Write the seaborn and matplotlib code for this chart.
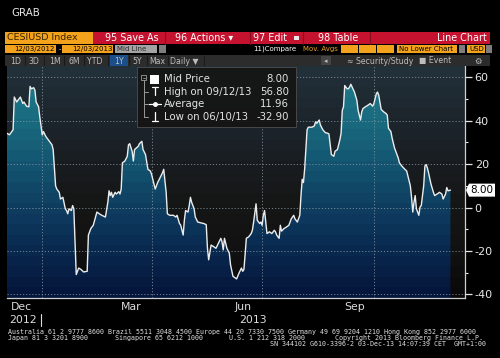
import numpy as np
import pandas as pd
import matplotlib
matplotlib.use("Agg")
import matplotlib.pyplot as plt
import matplotlib.dates as mdates
from matplotlib.colors import LinearSegmentedColormap
from matplotlib.patches import Rectangle, Polygon
from matplotlib.lines import Line2D
import seaborn as sns

# --- CESIUSD index ---
dates = [
    "2012-12-03", "2012-12-05", "2012-12-08", "2012-12-09", "2012-12-11", "2012-12-12", "2012-12-14",
    "2012-12-16", "2012-12-17", "2012-12-19", "2012-12-21", "2012-12-22", "2012-12-23", "2012-12-25",
    "2012-12-26", "2012-12-27", "2012-12-29", "2012-12-30", "2013-01-01", "2013-01-02", "2013-01-04",
    "2013-01-06", "2013-01-09", "2013-01-10", "2013-01-12", "2013-01-13", "2013-01-15", "2013-01-16",
    "2013-01-18", "2013-01-20", "2013-01-21", "2013-01-22", "2013-01-23", "2013-01-25", "2013-01-26",
    "2013-01-27", "2013-01-29", "2013-01-31", "2013-02-02", "2013-02-04", "2013-02-07", "2013-02-08",
    "2013-02-10", "2013-02-12", "2013-02-15", "2013-02-17", "2013-02-19", "2013-02-22", "2013-02-24",
    "2013-02-25", "2013-02-26", "2013-02-27", "2013-02-28", "2013-03-02", "2013-03-03", "2013-03-05",
    "2013-03-06", "2013-03-07", "2013-03-08", "2013-03-10", "2013-03-12", "2013-03-13", "2013-03-14",
    "2013-03-16", "2013-03-17", "2013-03-18", "2013-03-21", "2013-03-22", "2013-03-24", "2013-03-25",
    "2013-03-27", "2013-03-29", "2013-03-31", "2013-04-01", "2013-04-03", "2013-04-04", "2013-04-06",
    "2013-04-08", "2013-04-10", "2013-04-11", "2013-04-13", "2013-04-14", "2013-04-16", "2013-04-19",
    "2013-04-21", "2013-04-22", "2013-04-24", "2013-04-25", "2013-04-27", "2013-04-28", "2013-04-29",
    "2013-05-01", "2013-05-02", "2013-05-03", "2013-05-04", "2013-05-06", "2013-05-07", "2013-05-09",
    "2013-05-11", "2013-05-14", "2013-05-16", "2013-05-17", "2013-05-18", "2013-05-20", "2013-05-22",
    "2013-05-24", "2013-05-26", "2013-05-28", "2013-05-29", "2013-05-30", "2013-05-31", "2013-06-02",
    "2013-06-04", "2013-06-05", "2013-06-06", "2013-06-07", "2013-06-10", "2013-06-12", "2013-06-14",
    "2013-06-15", "2013-06-16", "2013-06-17", "2013-06-18", "2013-06-20", "2013-06-22", "2013-06-23",
    "2013-06-24", "2013-06-26", "2013-06-27", "2013-06-29", "2013-06-30", "2013-07-01", "2013-07-02",
    "2013-07-03", "2013-07-05", "2013-07-07", "2013-07-09", "2013-07-11", "2013-07-12", "2013-07-13",
    "2013-07-15", "2013-07-16", "2013-07-17", "2013-07-19", "2013-07-21", "2013-07-23", "2013-07-25",
    "2013-07-27", "2013-07-28", "2013-07-30", "2013-08-01", "2013-08-02", "2013-08-03", "2013-08-04",
    "2013-08-05", "2013-08-07", "2013-08-08", "2013-08-11", "2013-08-13", "2013-08-14", "2013-08-15",
    "2013-08-17", "2013-08-18", "2013-08-20", "2013-08-22", "2013-08-24", "2013-08-25", "2013-08-27",
    "2013-08-29", "2013-08-30", "2013-09-01", "2013-09-03", "2013-09-04", "2013-09-05", "2013-09-06",
    "2013-09-07", "2013-09-09", "2013-09-10", "2013-09-11", "2013-09-12", "2013-09-15", "2013-09-17",
    "2013-09-18", "2013-09-20", "2013-09-21", "2013-09-22", "2013-09-24", "2013-09-26", "2013-09-28",
    "2013-09-30", "2013-10-01", "2013-10-03", "2013-10-04", "2013-10-05", "2013-10-07", "2013-10-09",
    "2013-10-11", "2013-10-12", "2013-10-13", "2013-10-15", "2013-10-16", "2013-10-18", "2013-10-20",
    "2013-10-21", "2013-10-22", "2013-10-24", "2013-10-26", "2013-10-28", "2013-10-29", "2013-10-31",
    "2013-11-01", "2013-11-02", "2013-11-03", "2013-11-04", "2013-11-05", "2013-11-07", "2013-11-08",
    "2013-11-09", "2013-11-11", "2013-11-12", "2013-11-13", "2013-11-14", "2013-11-15", "2013-11-17",
    "2013-11-19", "2013-11-20", "2013-11-22", "2013-11-24", "2013-11-26", "2013-11-27", "2013-11-29",
    "2013-11-30", "2013-12-01", "2013-12-03",
]
values = [
    34.2, 33.5, 35.8, 50.9, 48.6, 49.4, 50.9,
    47.9, 48.6, 46.7, 46.4, 55.8, 54.7, 55.2,
    54.0, 48.6, 46.4, 41.8, 33.5, 35.0, 32.7,
    31.2, 28.9, 26.7, 10.0, 8.5, 7.0, 3.9,
    4.7, -0.6, -1.4, -2.9, -0.6, -1.4, 0.9,
    -0.6, -30.9, -27.9, -28.6, -29.7, -29.4, -12.7,
    -9.7, -8.2, -2.1, -2.9, -3.6, -4.4, 2.4,
    7.7, 5.5, 7.0, 4.7, 7.0, 6.2, 7.3,
    6.2, 8.5, 20.6, 21.4, 23.6, 28.9, 29.4,
    25.9, 21.4, 26.7, 28.2, 29.4, 30.5, 26.7,
    24.4, 17.6, 16.8, 15.3, 10.8, 8.5, 11.5,
    13.8, 16.0, 17.6, 7.0, -2.9, -3.6, -3.6,
    -4.4, -3.6, -7.4, -8.2, -12.7, -5.9, -1.4,
    -2.1, 0.9, 4.7, 2.4, -0.6, -4.4, -6.7,
    -7.0, -7.4, -7.9, -18.8, -24.1, -17.3, -18.0,
    -18.8, -16.5, -14.2, -15.8, -19.5, -14.2, -18.8,
    -21.1, -26.4, -29.1, -31.7, -32.9, -30.2, -27.9,
    -29.4, -28.6, -21.8, -14.2, -13.5, -12.0, -10.5,
    -6.7, 1.7, -5.9, -7.4, -6.7, -8.2, -3.6,
    -1.4, -12.0, -11.2, -12.0, -10.5, -11.2, -12.7,
    -14.2, -8.2, -10.9, -9.7, -9.0, -8.2, -5.2,
    -3.6, -5.2, -6.7, -3.6, 5.5, 13.0, 11.5,
    17.6, 35.8, 37.0, 37.0, 37.6, 39.5, 38.8,
    40.3, 38.0, 35.8, 34.5, 34.2, 33.9, 24.4,
    23.6, 25.9, 26.7, 31.2, 34.2, 44.8, 46.4,
    56.2, 54.7, 54.7, 55.5, 56.8, 53.2, 49.4,
    44.8, 40.3, 44.1, 45.6, 46.4, 47.1, 47.9,
    46.7, 47.9, 52.4, 53.2, 51.7, 45.2, 44.1,
    43.3, 42.6, 36.5, 35.0, 32.0, 27.4, 24.4,
    22.9, 20.6, 19.1, 17.9, 16.8, 14.5, 10.0,
    4.7, -2.1, 2.4, 5.5, -0.6, -3.6, 0.2,
    0.9, 10.0, 19.1, 19.8, 18.3, 16.0, 10.8,
    7.0, 5.5, 6.2, 7.0, 6.2, 3.9, 6.2,
    9.2, 7.7, 8.0,
]

legend_labels = ["Mid Price", "High on 09/12/13", "Average", "Low on 06/10/13"]
legend_values = ["8.00", "56.80", "11.96", "-32.90"]
last_label = "8.00"

y_major = [-40, -20, 0, 20, 40, 60]
y_minor = [-30, -10, 10, 30, 50]
month_label_dates = ["2012-12-15", "2013-03-15", "2013-06-15", "2013-09-15"]
month_labels = ["Dec", "Mar", "Jun", "Sep"]
quarter_lines = ["2013-01-01", "2013-04-01", "2013-07-01", "2013-10-01"]
x_start, x_end = "2012-12-03", "2013-12-15"
y_lo, y_hi = -41.7, 65.2

footer_1 = "Australia 61 2 9777 8600 Brazil 5511 3048 4500 Europe 44 20 7330 7500 Germany 49 69 9204 1210 Hong Kong 852 2977 6000"
footer_2 = ["Japan 81 3 3201 8900", "Singapore 65 6212 1000", "U.S. 1 212 318 2000",
            "Copyright 2013 Bloomberg Finance L.P."]
footer_3 = "SN 344102 G610-3396-2 03-Dec-13 14:07:39 CET  GMT+1:00"

df = pd.DataFrame({"date": pd.to_datetime(dates), "value": values})

# --- figure / helpers (pixel coords, origin top-left) ---
sns.set_style("dark")
plt.rcParams["font.family"] = ["DejaVu Sans"]
W, H = 500, 358
fig = plt.figure(figsize=(W / 100, H / 100), dpi=100, facecolor="black")


def box(x0, y0, x1, y1, fc, ec="none", lw=0, z=1, alpha=1):
    fig.add_artist(Rectangle((x0 / W, 1 - y1 / H), (x1 - x0) / W, (y1 - y0) / H,
                             transform=fig.transFigure, fc=fc, ec=ec, lw=lw, zorder=z, alpha=alpha))


def txt(x, y, s, size=7, color="white", ha="left", z=5, **kw):
    fig.text(x / W, 1 - y / H, s, fontsize=size, color=color, ha=ha, va="center", zorder=z, **kw)


def seg(xs, ys, color="#9a9a9a", lw=0.7, z=6, **kw):
    fig.add_artist(Line2D([x / W for x in xs], [1 - y / H for y in ys], transform=fig.transFigure,
                          color=color, lw=lw, zorder=z, **kw))


txt(11, 13, "GRAB", size=7.4, color="#e6e6e6")

# row 1
orange = "#f3a31b"
red = "#c4122f"
box(5, 32, 93, 44, orange)
txt(7, 38, "CESIUSD Index", size=6.8, color="#3a2200")
box(93, 32, 490, 44, red)
for xd in [165, 250, 303, 370]:
    seg([xd, xd], [32, 44], color="#8a0c20", lw=0.8)
txt(105, 38, "95 Save As", size=6.9)
txt(175, 38, "96 Actions \u25be", size=6.9)
txt(253, 38, "97 Edit", size=6.9)
box(294, 36, 299, 40, "#e8e8e8", z=2)
txt(318, 38, "98 Table", size=6.9)
txt(487, 38, "Line Chart", size=6.9, ha="right")

# row 2
box(5, 45, 56, 53, orange)
txt(14, 49, "12/03/2012", size=5.0, color="black")
txt(59.5, 49, "-", size=5.0, ha="center")
box(62, 45, 113, 53, orange)
txt(72, 49, "12/03/2013", size=5.0, color="black")
box(115, 45, 157, 53, "#a3a3a3")
txt(117, 49, "Mid Line", size=5.0, color="#2a2a2a")
box(159, 45, 166, 53, "#7d7d7d")
txt(253, 49, "11)Compare", size=5.0)
txt(303, 49, "Mov. Avgs", size=5.0, color="#e8a020")
for xa in [341, 359, 377]:
    box(xa, 45, xa + 17, 53, orange)
box(397, 45, 457, 53, orange)
txt(399, 49, "No Lower Chart", size=5.0, color="black")
box(459, 45, 465, 53, "#7d7d7d")
box(467, 45, 485, 53, orange)
txt(469, 49, "USD", size=5.0, color="black")
box(486, 45, 492, 53, "#7d7d7d")

# row 3
box(5, 55, 490, 66, "#2c2c2c")
box(110, 55, 128, 66, "#1c4f8a")
for lab, xc in [("1D", 16), ("3D", 34), ("1M", 55), ("6M", 74), ("YTD", 95), ("1Y", 119),
                ("5Y", 137), ("Max", 157), ("Daily \u25bc", 184)]:
    txt(xc, 61, lab, size=5.6, color="#bdbdbd", ha="center")
for xd in [25, 44, 64, 84, 108, 129, 147, 168, 204]:
    seg([xd, xd], [56, 65], color="#1a1a1a", lw=0.8)
box(321, 56, 331, 65, "#444444")
txt(326, 61, "\u25c2", size=5.0, color="#bdbdbd", ha="center")
txt(380, 61, "\u2248 Security/Study", size=5.6, color="#bdbdbd", ha="center")
txt(435, 61, "\u25a0 Event", size=5.6, color="#bdbdbd", ha="center")
txt(478, 61, "\u2699", size=6.0, color="#bdbdbd", ha="center")

# --- chart ---
ax = fig.add_axes([7 / W, 1 - 298 / H, (465 - 7) / W, (298 - 66) / H])
ax.set_facecolor("black")
x0n, x1n = mdates.date2num(pd.Timestamp(x_start)), mdates.date2num(pd.Timestamp(x_end))

bg_cmap = LinearSegmentedColormap.from_list(
    "bg", ["#0a0a0a", "#121212", "#151616", "#191e22", "#1d262d", "#223039"])
fill_cmap = LinearSegmentedColormap.from_list(
    "fill", ["#05163c", "#09264d", "#0d375c", "#114b6a", "#165f77", "#1b7083", "#1f7c8c"])
bands = np.linspace(0, 1, 22).reshape(-1, 1)
ax.imshow(bands, cmap=bg_cmap, origin="lower", aspect="auto", interpolation="nearest",
          extent=[x0n, x1n, y_lo, y_hi], zorder=0)
grad = ax.imshow(bands, cmap=fill_cmap, origin="lower", aspect="auto", interpolation="nearest",
                 extent=[x0n, x1n, y_lo, y_hi], zorder=1)
area = ax.fill_between(df["date"], df["value"], y_lo, facecolor="none", edgecolor="none")
grad.set_clip_path(area.get_paths()[0], transform=ax.transData)

sns.lineplot(data=df, x="date", y="value", color="#ececec", linewidth=1.0,
             estimator=None, sort=False, ax=ax, zorder=4)

ax.set_xlim(x0n, x1n)
ax.set_ylim(y_lo, y_hi)
ax.set_xlabel("")
ax.set_ylabel("")

# grid
ax.grid(False)
for yv in y_major:
    ax.axhline(yv, color="#8c99a4", lw=0.7, ls=(0, (1.2, 2.0)), alpha=0.8, zorder=2)
for qd in quarter_lines:
    ax.axvline(pd.Timestamp(qd), color="#8c99a4", lw=0.7, ls=(0, (1.2, 2.0)), alpha=0.8, zorder=2)

# y axis on the right
ax.yaxis.tick_right()
ax.set_yticks(y_major)
ax.set_yticks(y_minor, minor=True)
ax.tick_params(axis="y", which="major", colors="#e6e6e6", labelsize=8, length=5, width=0.9, pad=2)
ax.tick_params(axis="y", which="minor", colors="#e6e6e6", length=2.5, width=0.8)
ax.set_yticklabels([str(v) for v in y_major])

# x axis: month-start ticks, mid-month labels
ax.xaxis.set_major_locator(mdates.MonthLocator())
ax.xaxis.set_major_formatter(plt.NullFormatter())
ax.set_xticks(mdates.date2num(pd.to_datetime(month_label_dates)), minor=True)
ax.set_xticklabels(month_labels, minor=True)
ax.tick_params(axis="x", which="major", direction="in", length=3, colors="#cfcfcf", width=0.8)
ax.tick_params(axis="x", which="minor", length=0, labelsize=7.8, labelcolor="#dcdcdc", pad=3)

for side in ["left", "top"]:
    ax.spines[side].set_visible(False)
for side in ["right", "bottom"]:
    ax.spines[side].set_color("#cfcfcf")
    ax.spines[side].set_linewidth(0.9)

# year row
txt(23, 320, "2012", size=7.8, color="#dcdcdc", ha="center")
seg([41, 41], [314, 326], color="#dcdcdc", lw=0.8)
txt(253, 320, "2013", size=7.8, color="#dcdcdc", ha="center")

# last value tag
tip = ax.transData.transform((x1n, df["value"].iloc[-1]))
ty = H - tip[1] * 100 / fig.dpi
fig.add_artist(Polygon([[466 / W, 1 - ty / H], [469 / W, 1 - (ty - 6.5) / H], [495 / W, 1 - (ty - 6.5) / H],
                        [495 / W, 1 - (ty + 6.5) / H], [469 / W, 1 - (ty + 6.5) / H]],
                       closed=True, transform=fig.transFigure, fc="white", ec="none", zorder=7))
txt(482, ty, last_label, size=7.5, color="black", ha="center", z=8)

# legend panel
box(137, 67, 296, 127, "#151515", ec="#4a4a4a", lw=0.7, z=6, alpha=0.95)
rows_y = [79, 92, 104, 117]
box(141, 75, 146, 80, "none", ec="#9a9a9a", lw=0.6, z=7)
seg([142.5, 144.5], [77.5, 77.5], lw=0.6, z=7)
seg([143.5, 143.5], [80, 117], z=7)
for ry in rows_y[1:]:
    seg([143.5, 148], [ry, ry], z=7)
box(150, 74.5, 159, 83.5, "white", z=7)
seg([152, 158], [86.5, 86.5], color="white", lw=0.9, z=7)
seg([155, 155], [86.5, 95], color="white", lw=0.9, z=7)
seg([149, 161], [104, 104], color="white", lw=0.9, z=7)
fig.add_artist(Line2D([155 / W], [1 - 104 / H], marker="o", ms=2.5, color="white",
                      transform=fig.transFigure, zorder=8))
seg([155, 155], [112, 120.5], color="white", lw=0.9, z=7)
seg([152, 158], [120.5, 120.5], color="white", lw=0.9, z=7)
for ry, lab, val in zip(rows_y, legend_labels, legend_values):
    txt(164, ry, lab, size=7.3, color="#e3e3e3", z=8)
    txt(289, ry, val, size=7.3, color="#e3e3e3", ha="right", z=8)

# footer
mono = dict(size=4.75, color="#e0e0e0", family="DejaVu Sans Mono")
txt(8, 332, footer_1, **mono)
for xf, piece in zip([8, 115, 229, 335], footer_2):
    txt(xf, 338, piece, **mono)
txt(486, 344, footer_3, ha="right", **mono)

fig.savefig("out.png", dpi=100, facecolor="black")
